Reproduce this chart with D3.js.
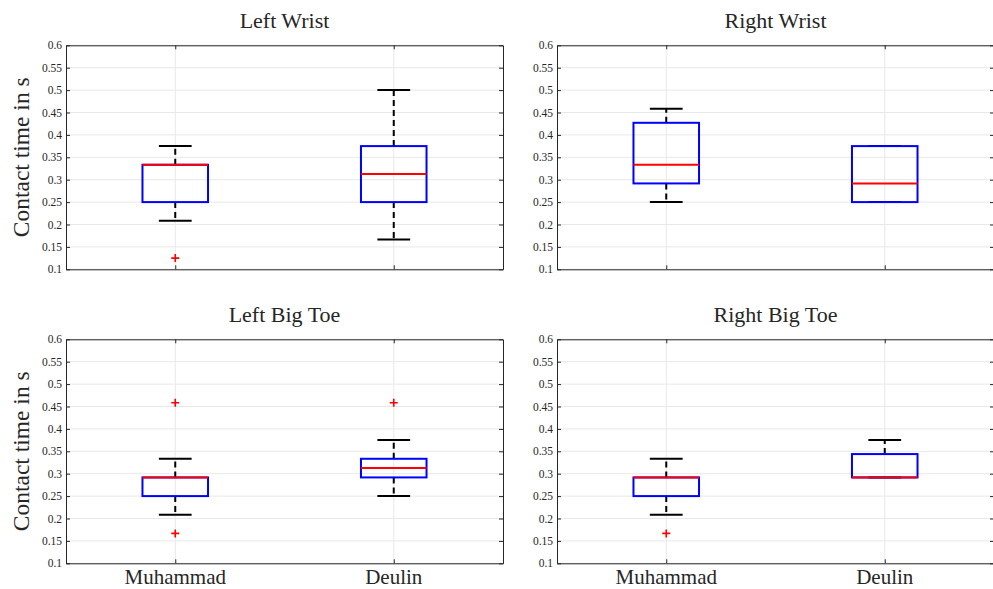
<!DOCTYPE html>
<html>
<head>
<meta charset="utf-8">
<script src="https://cdn.jsdelivr.net/npm/d3@7"></script>
<style>
  html, body { margin: 0; padding: 0; background: #fff; }
  svg { display: block; }
</style>
</head>
<body>
<svg id="chart" width="993" height="589"></svg>
<script>
// Categories and axis ticks
const categories = ["Muhammad", "Deulin"];
const panelTitles = ["Left Wrist", "Right Wrist", "Left Big Toe", "Right Big Toe"];
const yTicks = [0.1, 0.15, 0.2, 0.25, 0.3, 0.35, 0.4, 0.45, 0.5, 0.55, 0.6];
const yTickLabels = ["0.1", "0.15", "0.2", "0.25", "0.3", "0.35", "0.4", "0.45", "0.5", "0.55", "0.6"];

// Box statistics per category: [lower whisker, Q1, median, Q3, upper whisker]
const leftWristBoxes   = [[0.2083, 0.25, 0.3333, 0.3333, 0.375], [0.1667, 0.25, 0.3125, 0.375, 0.5]];
const rightWristBoxes  = [[0.25, 0.2917, 0.3333, 0.427, 0.4583], [0.25, 0.25, 0.2917, 0.375, 0.375]];
const leftToeBoxes     = [[0.2083, 0.25, 0.2917, 0.2917, 0.3333], [0.25, 0.2917, 0.3125, 0.3333, 0.375]];
const rightToeBoxes    = [[0.2083, 0.25, 0.2917, 0.2917, 0.3333], [0.2917, 0.2917, 0.2917, 0.3438, 0.375]];

// Outliers per category
const leftWristOutliers  = [[0.125], []];
const rightWristOutliers = [[], []];
const leftToeOutliers    = [[0.4583, 0.1667], [0.4583]];
const rightToeOutliers   = [[0.1667], []];

const panelBoxes = [leftWristBoxes, rightWristBoxes, leftToeBoxes, rightToeBoxes];
const panelOutliers = [leftWristOutliers, rightWristOutliers, leftToeOutliers, rightToeOutliers];

// Layout of the 2x2 grid of axes
const axesX = [66, 557];
const axesY = [45.3, 339.3];
const axesW = 437;
const axesH = 224;

const svg = d3.select("#chart");
const serif = "'Liberation Serif', 'DejaVu Serif', serif";
const axisColor = "#262626";
const gridColor = "#e8e8e8";
const boxWidth = 0.3;
const tickLen = 4;

panelTitles.forEach((title, i) => {
  const col = i % 2, row = Math.floor(i / 2);
  const ox = axesX[col], oy = axesY[row];

  const x = d3.scaleLinear().domain([0.5, 2.5]).range([0, axesW]);
  const y = d3.scaleLinear().domain([0.1, 0.6]).range([axesH, 0]);

  const g = svg.append("g").attr("transform", `translate(${ox},${oy})`);

  // Grid
  g.append("g").selectAll("line.h").data(yTicks).join("line")
    .attr("x1", 0).attr("x2", axesW)
    .attr("y1", d => y(d)).attr("y2", d => y(d))
    .attr("stroke", gridColor).attr("stroke-width", 1);
  g.append("g").selectAll("line.v").data(categories).join("line")
    .attr("x1", (d, k) => x(k + 1)).attr("x2", (d, k) => x(k + 1))
    .attr("y1", 0).attr("y2", axesH)
    .attr("stroke", gridColor).attr("stroke-width", 1);

  // Axes with inward ticks
  const left = d3.axisLeft(y).tickValues(yTicks).tickFormat((d, k) => yTickLabels[k])
    .tickSizeInner(-tickLen).tickSizeOuter(0).tickPadding(4);
  const right = d3.axisRight(y).tickValues(yTicks).tickFormat("")
    .tickSizeInner(-tickLen).tickSizeOuter(0);
  const bottom = d3.axisBottom(x).tickValues([1, 2]).tickFormat("")
    .tickSizeInner(-tickLen).tickSizeOuter(0);
  const top = d3.axisTop(x).tickValues([1, 2]).tickFormat("")
    .tickSizeInner(-tickLen).tickSizeOuter(0);

  const gl = g.append("g").call(left);
  const gr = g.append("g").attr("transform", `translate(${axesW},0)`).call(right);
  const gb = g.append("g").attr("transform", `translate(0,${axesH})`).call(bottom);
  const gt = g.append("g").call(top);
  [gl, gr, gb, gt].forEach(a => {
    a.selectAll("path.domain").attr("stroke", axisColor).attr("stroke-width", 1);
    a.selectAll(".tick line").attr("stroke", axisColor).attr("stroke-width", 1);
    a.selectAll("text").attr("fill", axisColor).attr("font-family", serif);
  });
  gl.selectAll("text").attr("font-size", 11.5);

  // Category labels under the bottom row
  if (row === 1) {
    g.append("g").selectAll("text").data(categories).join("text")
      .attr("x", (d, k) => x(k + 1)).attr("y", axesH + 21)
      .attr("text-anchor", "middle").attr("font-family", serif).attr("font-size", 21)
      .attr("fill", axisColor).text(d => d);
  }

  // Boxes
  const boxes = panelBoxes[i];
  boxes.forEach((b, k) => {
    const cx = x(k + 1);
    const hw = (x(1 + boxWidth / 2) - x(1));
    const cap = hw / 2;
    const [lo, q1, med, q3, hi] = b;
    // whiskers
    g.append("line").attr("x1", cx).attr("x2", cx).attr("y1", y(q3)).attr("y2", y(hi))
      .attr("stroke", "#000").attr("stroke-width", 2).attr("stroke-dasharray", "6,4");
    g.append("line").attr("x1", cx).attr("x2", cx).attr("y1", y(q1)).attr("y2", y(lo))
      .attr("stroke", "#000").attr("stroke-width", 2).attr("stroke-dasharray", "6,4");
    // caps
    [lo, hi].forEach(v => {
      g.append("line").attr("x1", cx - cap).attr("x2", cx + cap).attr("y1", y(v)).attr("y2", y(v))
        .attr("stroke", "#000").attr("stroke-width", 2);
    });
    // box
    g.append("rect").attr("x", cx - hw).attr("y", y(q3))
      .attr("width", 2 * hw).attr("height", y(q1) - y(q3))
      .attr("fill", "none").attr("stroke", "#0000ff").attr("stroke-width", 2);
    // median
    g.append("line").attr("x1", cx - hw).attr("x2", cx + hw).attr("y1", y(med)).attr("y2", y(med))
      .attr("stroke", "#ff0000").attr("stroke-width", 2);
    // outliers
    panelOutliers[i][k].forEach(v => {
      g.append("path")
        .attr("d", `M${cx - 4},${y(v)}H${cx + 4}M${cx},${y(v) - 4}V${y(v) + 4}`)
        .attr("stroke", "#ff0000").attr("stroke-width", 1.6).attr("fill", "none");
    });
  });

  // Title
  g.append("text").attr("x", axesW / 2).attr("y", -17)
    .attr("text-anchor", "middle").attr("font-family", serif).attr("font-size", 22)
    .attr("fill", axisColor).text(title);

  // Y label on left column
  if (col === 0) {
    g.append("text")
      .attr("transform", `translate(${-37},${axesH / 2}) rotate(-90)`)
      .attr("text-anchor", "middle").attr("font-family", serif).attr("font-size", 23.5)
      .attr("fill", axisColor).text("Contact time in s");
  }
});
</script>
</body>
</html>
